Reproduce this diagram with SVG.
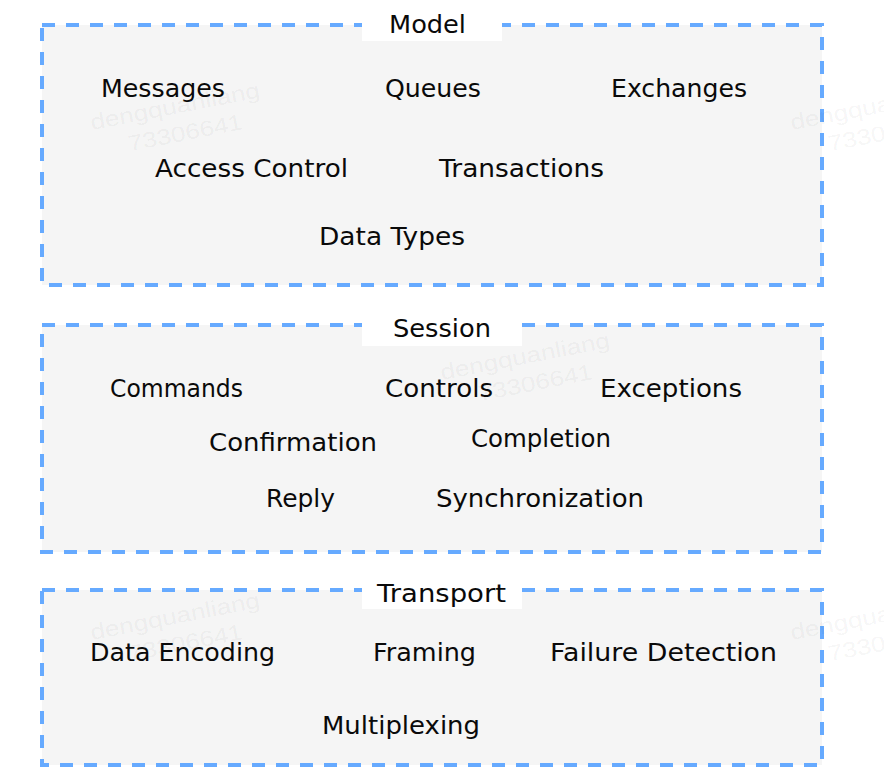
<svg xmlns="http://www.w3.org/2000/svg" width="884" height="784" viewBox="0 0 884 784">
<style>
.box{fill:#f5f5f5;stroke:#66aaff;stroke-width:4;stroke-dasharray:13 11;}
.tbg{fill:#ffffff;}
.t{font-family:"DejaVu Sans","Liberation Sans",sans-serif;font-size:25px;fill:#0a0a0a;}
.h{font-family:"DejaVu Sans","Liberation Sans",sans-serif;font-size:24px;fill:#0a0a0a;text-anchor:start;}
.wm{font-family:"Liberation Sans","DejaVu Sans",sans-serif;font-size:22px;fill:#000000;fill-opacity:0.055;}
</style>
<rect width="884" height="784" fill="#ffffff"/>

<g id="model">
<rect class="box" x="42" y="25" width="780" height="260"/>
<rect class="tbg" x="362" y="9" width="140" height="32"/>
<text class="h" x="389" y="33" textLength="77" lengthAdjust="spacingAndGlyphs">Model</text>
<text class="t" x="101" y="97" textLength="124" lengthAdjust="spacingAndGlyphs">Messages</text>
<text class="t" x="385" y="97" textLength="96" lengthAdjust="spacingAndGlyphs">Queues</text>
<text class="t" x="611" y="97" textLength="136" lengthAdjust="spacingAndGlyphs">Exchanges</text>
<text class="t" x="155" y="177" textLength="193" lengthAdjust="spacingAndGlyphs">Access Control</text>
<text class="t" x="439" y="177" textLength="165" lengthAdjust="spacingAndGlyphs">Transactions</text>
<text class="t" x="319" y="245" textLength="146" lengthAdjust="spacingAndGlyphs">Data Types</text>
</g>

<g id="session">
<rect class="box" x="42" y="325" width="780" height="227"/>
<rect class="tbg" x="362" y="314" width="160" height="32"/>
<text class="h" x="393" y="337" textLength="98" lengthAdjust="spacingAndGlyphs">Session</text>
<text class="t" x="110" y="397" textLength="133" lengthAdjust="spacingAndGlyphs">Commands</text>
<text class="t" x="385" y="397" textLength="108" lengthAdjust="spacingAndGlyphs">Controls</text>
<text class="t" x="600" y="397" textLength="142" lengthAdjust="spacingAndGlyphs">Exceptions</text>
<text class="t" x="209" y="451" textLength="168" lengthAdjust="spacingAndGlyphs">Confirmation</text>
<text class="t" x="471" y="447" textLength="140" lengthAdjust="spacingAndGlyphs">Completion</text>
<text class="t" x="266" y="507" textLength="69" lengthAdjust="spacingAndGlyphs">Reply</text>
<text class="t" x="436" y="507" textLength="208" lengthAdjust="spacingAndGlyphs">Synchronization</text>
</g>

<g id="transport">
<rect class="box" x="42" y="590" width="780" height="175"/>
<rect class="tbg" x="362" y="577" width="160" height="32"/>
<text class="h" x="377" y="602" textLength="129" lengthAdjust="spacingAndGlyphs">Transport</text>
<text class="t" x="90" y="661" textLength="185" lengthAdjust="spacingAndGlyphs">Data Encoding</text>
<text class="t" x="373" y="661" textLength="103" lengthAdjust="spacingAndGlyphs">Framing</text>
<text class="t" x="550" y="661" textLength="227" lengthAdjust="spacingAndGlyphs">Failure Detection</text>
<text class="t" x="322" y="734" textLength="158" lengthAdjust="spacingAndGlyphs">Multiplexing</text>
</g>

<g id="connectors"></g>

<g id="watermarks">
<g transform="translate(92,130) rotate(-11)"><text class="wm" x="0" y="0" textLength="172" lengthAdjust="spacingAndGlyphs">dengquanliang</text><text class="wm" x="33" y="28" textLength="116" lengthAdjust="spacingAndGlyphs">73306641</text></g>
<g transform="translate(792,130) rotate(-11)"><text class="wm" x="0" y="0" textLength="172" lengthAdjust="spacingAndGlyphs">dengquanliang</text><text class="wm" x="33" y="28" textLength="116" lengthAdjust="spacingAndGlyphs">73306641</text></g>
<g transform="translate(442,380) rotate(-11)"><text class="wm" x="0" y="0" textLength="172" lengthAdjust="spacingAndGlyphs">dengquanliang</text><text class="wm" x="33" y="28" textLength="116" lengthAdjust="spacingAndGlyphs">73306641</text></g>
<g transform="translate(92,640) rotate(-11)"><text class="wm" x="0" y="0" textLength="172" lengthAdjust="spacingAndGlyphs">dengquanliang</text><text class="wm" x="33" y="28" textLength="116" lengthAdjust="spacingAndGlyphs">73306641</text></g>
<g transform="translate(792,640) rotate(-11)"><text class="wm" x="0" y="0" textLength="172" lengthAdjust="spacingAndGlyphs">dengquanliang</text><text class="wm" x="33" y="28" textLength="116" lengthAdjust="spacingAndGlyphs">73306641</text></g>
</g>
</svg>
